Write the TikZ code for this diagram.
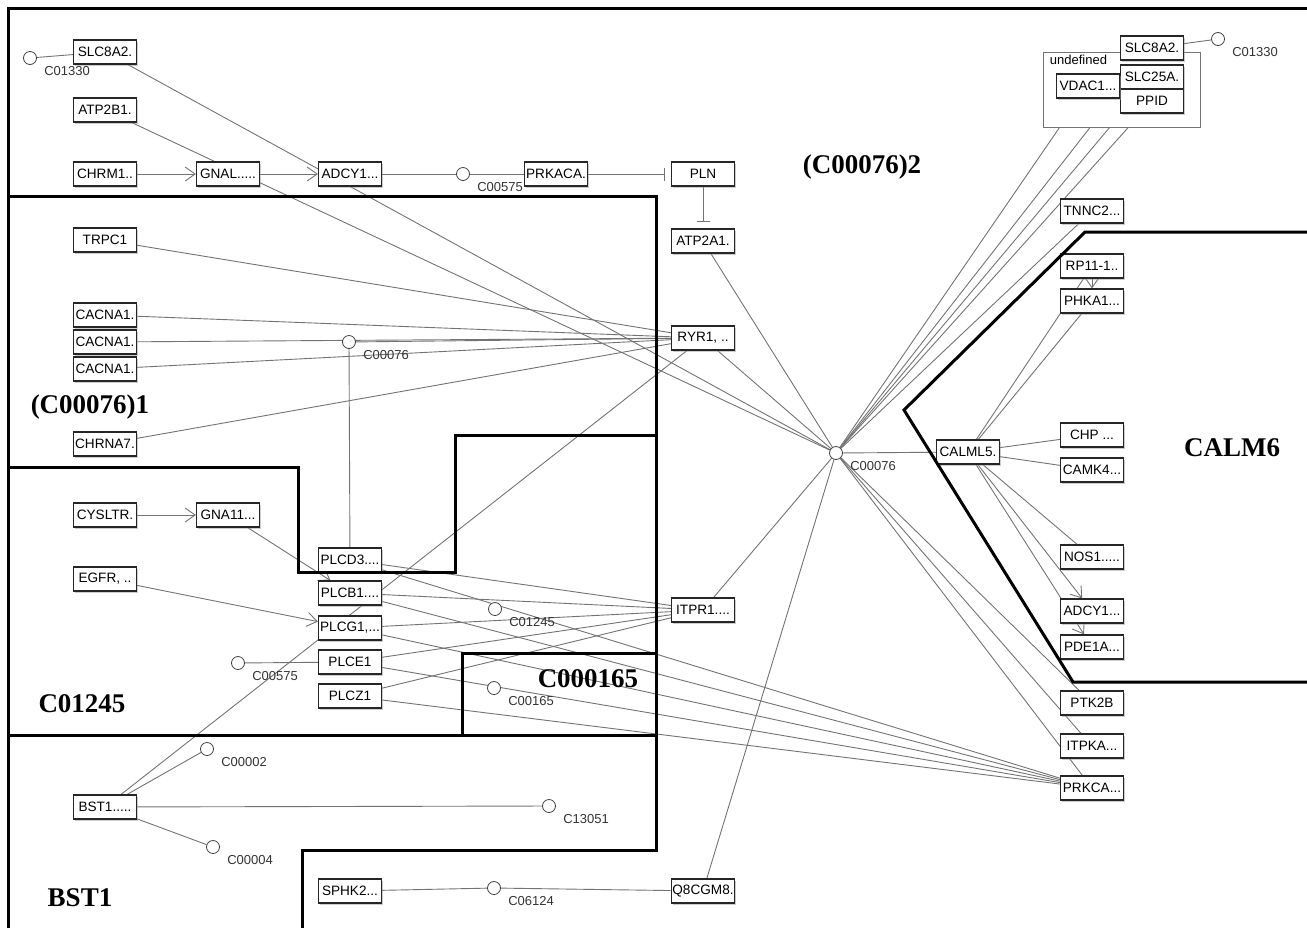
\documentclass[tikz,border=0pt]{standalone}
\usepackage{fontspec}
\setmainfont{Liberation Serif}
\setsansfont{Liberation Sans}
\usetikzlibrary{arrows.meta,backgrounds,shadows}

\begin{document}
\begin{tikzpicture}[x=0.5pt, y=-0.5pt,
    gene/.style = {draw=black!85, line width=0.6pt, fill=white, minimum width=31.5pt, minimum height=12pt, inner xsep=0.6pt, inner ysep=1pt, font=\sffamily\fontsize{6.8}{8}\selectfont, drop shadow={shadow xshift=0.8pt, shadow yshift=-0.8pt, fill=black!40}},
    cpd/.style = {circle, draw=black!75, fill=white, minimum size=6.5pt, inner sep=0pt},
    cpdname/.style = {font=\sffamily\fontsize{6.5}{7}\selectfont, text=black!80, inner sep=0.5pt, xshift=4pt, yshift=-1pt},
    link/.style = {draw=black!55, line width=0.45pt},
    act/.style = {link, -{Straight Barb[length=5pt, width=7pt]}},
    inh/.style = {link, shorten >=3pt, -{Bar[width=6.5pt, line width=0.6pt]}},
    region/.style = {line width=1.5pt, line join=miter},
    regname/.style = {font=\bfseries\fontsize{13.5}{16}\selectfont}]

    \useasboundingbox (0,0) rectangle (1307,928);

    % genes, upper part
    \node[gene] (slcL) at (105,52) {SLC8A2.};
    \node[gene] (atp2b1) at (105,110) {ATP2B1.};
    \node[gene] (chrm1) at (105,174) {CHRM1..};
    \node[gene] (gnal) at (228,174) {GNAL.....};
    \node[gene] (adcyT) at (350,174) {ADCY1...};
    \node[gene] (prkaca) at (556,174) {PRKACA.};
    \node[gene] (pln) at (703,174) {PLN};
    \node[gene] (atp2a1) at (703,241) {ATP2A1.};
    \node[gene] (trpc1) at (105,240) {TRPC1};
    \node[gene] (cacnaA) at (105,315) {CACNA1.};
    \node[gene] (cacnaB) at (105,342) {CACNA1.};
    \node[gene] (cacnaC) at (105,369) {CACNA1.};
    \node[gene] (chrna7) at (105,444) {CHRNA7.};
    \node[gene] (ryr1) at (703,338) {RYR1, ..};

    % genes, lower part
    \node[gene] (cysltr) at (105,515) {CYSLTR.};
    \node[gene] (gna11) at (228,515) {GNA11...};
    \node[gene] (egfr) at (105,579) {EGFR, ..};
    \node[gene] (plcd3) at (350,560) {PLCD3....};
    \node[gene] (plcb1) at (350,593) {PLCB1....};
    \node[gene] (plcg1) at (350,628) {PLCG1,...};
    \node[gene] (plce1) at (350,662) {PLCE1};
    \node[gene] (plcz1) at (350,696) {PLCZ1};
    \node[gene] (itpr1) at (703,610) {ITPR1....};
    \node[gene] (bst1) at (105,807) {BST1.....};
    \node[gene] (sphk2) at (350,891) {SPHK2...};
    \node[gene] (q8cgm8) at (703,891) {Q8CGM8.};

    % genes, right side
    \node[draw=black!55, fill=white, line width=0.5pt, minimum width=78.5pt, minimum height=37.5pt, inner sep=0pt] (undef) at (1121.5,89.5) {};
    \node[anchor=north west, inner sep=1.5pt, xshift=2pt, font=\sffamily\fontsize{6.5}{7}\selectfont] (undeflbl) at (undef.north west) {undefined};
    \node[gene] (slcR) at (1152,48) {SLC8A2.};
    \node[gene] (slc25a) at (1152,77) {SLC25A.};
    \node[gene] (ppid) at (1152,101) {PPID};
    \node[gene] (vdac1) at (1088,86) {VDAC1...};
    \node[gene] (tnnc2) at (1092,211) {TNNC2...};
    \node[gene] (rp11) at (1092,266) {RP11-1..};
    \node[gene] (phka1) at (1092,301) {PHKA1...};
    \node[gene] (calml5) at (968,452) {CALML5.};
    \node[gene] (chp) at (1092,435) {CHP ...};
    \node[gene] (camk4) at (1092,470) {CAMK4...};
    \node[gene] (nos1) at (1092,557) {NOS1.....};
    \node[gene] (adcyR) at (1092,611) {ADCY1...};
    \node[gene] (pde1a) at (1092,647) {PDE1A...};
    \node[gene] (ptk2b) at (1092,703) {PTK2B};
    \node[gene] (itpka) at (1092,746) {ITPKA...};
    \node[gene] (prkca) at (1092,788) {PRKCA...};

    % compounds
    \node[cpd, label={[cpdname]below right:C01330}] (cL) at (30,58) {};
    \node[cpd, label={[cpdname]below right:C00575}] (c575T) at (463,174) {};
    \node[cpd, label={[cpdname]below right:C00076}] (c76) at (349,342) {};
    \node[cpd, label={[cpdname]below right:C00575}] (c575L) at (238,663) {};
    \node[cpd, label={[cpdname]below right:C01245}] (c1245) at (495,609) {};
    \node[cpd, label={[cpdname]below right:C00165}] (c165) at (494,688) {};
    \node[cpd, label={[cpdname]below right:C00002}] (c2) at (207,749) {};
    \node[cpd, label={[cpdname]below right:C13051}] (c13051) at (549,806) {};
    \node[cpd, label={[cpdname]below right:C00004}] (c4) at (213,847) {};
    \node[cpd, label={[cpdname]below right:C06124}] (c6124) at (494,888) {};
    \node[cpd, label={[cpdname]below right:C00076}] (hub) at (836,453) {};
    \node[cpd, label={[cpdname]below right:C01330}] (cR) at (1218,39) {};

    % connectors
    \begin{scope}[on background layer]
    \draw[link] (cL) -- (slcL);
    \draw[act] (chrm1) -- (gnal);
    \draw[act] (gnal) -- (adcyT);
    \draw[link] (adcyT) -- (c575T);
    \draw[link] (c575T) -- (prkaca);
    \draw[inh] (prkaca) -- (pln);
    \draw[inh] (pln) -- (atp2a1);
    \foreach \n in {trpc1, cacnaA, cacnaB, cacnaC, chrna7, c76, bst1}
        \draw[link] (\n) -- (ryr1);
    \draw[link] (c76) -- (plcd3);
    \draw[act] (cysltr) -- (gna11);
    \draw[act] (gna11) -- (plcb1);
    \draw[act] (egfr) -- (plcg1);
    \draw[link] (c575L) -- (plce1);
    \foreach \n in {plcd3, plcb1, plcg1, plce1, plcz1} {
        \draw[link] (\n) -- (itpr1);
        \draw[link] (\n) -- (prkca);
    }
    \foreach \n in {c2, c13051, c4}
        \draw[link] (bst1) -- (\n);
    \draw[link] (sphk2) -- (c6124);
    \draw[link] (c6124) -- (q8cgm8);
    \draw[link] (slcR) -- (cR);
    \foreach \n in {slcL, atp2b1, atp2a1, ryr1, itpr1, q8cgm8, vdac1, slc25a, ppid, slcR, tnnc2, calml5, ptk2b, itpka, prkca}
        \draw[link] (hub) -- (\n);
    \draw[act] (rp11) -- (phka1);
    \draw[link] (rp11) -- (calml5);
    \draw[link] (phka1) -- (calml5);
    \foreach \n in {chp, camk4, nos1}
        \draw[link] (calml5) -- (\n);
    \draw[act] (calml5) -- (adcyR);
    \draw[act] (calml5) -- (pde1a);
    \end{scope}

    % regions
    \draw[region] (8,928) -- (8,8) -- (1307,8);
    \draw[region] (8,196) -- (656,196) -- (656,850) -- (302,850) -- (302,928);
    \draw[region] (8,467) -- (298,467) -- (298,572) -- (455,572) -- (455,435) -- (656,435);
    \draw[region] (462,735) -- (462,653) -- (656,653);
    \draw[region] (8,735) -- (656,735);
    \draw[region] (1307,232) -- (1085,232) -- (904,410) -- (1073,682) -- (1307,682);

    \node[regname] (nameA) at (90,407) {(C00076)1};
    \node[regname] (nameB) at (862,167) {(C00076)2};
    \node[regname] (nameC) at (82,704) {C01245};
    \node[regname] (nameD) at (588,679) {C000165};
    \node[regname] (nameE) at (80,898) {BST1};
    \node[regname] (nameF) at (1232,448) {CALM6};

\end{tikzpicture}
\end{document}
